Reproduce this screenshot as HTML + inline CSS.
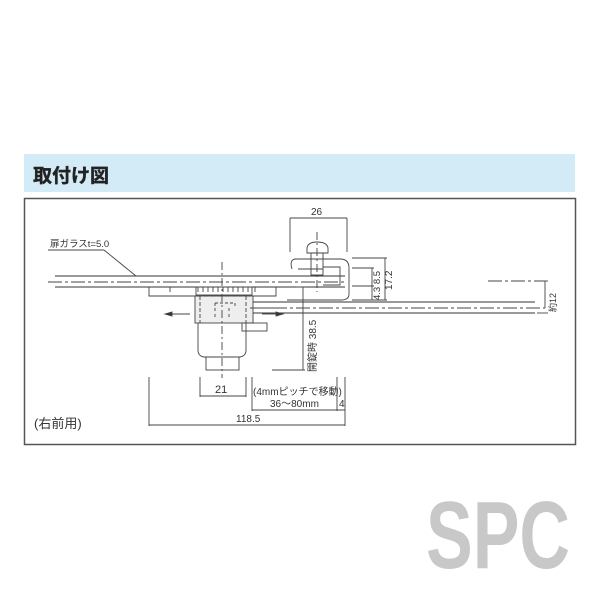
<!DOCTYPE html>
<html><head><meta charset="utf-8"><style>
html,body{margin:0;padding:0;background:#fff;}
svg{display:block;}
text{font-family:"Liberation Sans","Noto Sans CJK JP",sans-serif;fill:#333;}
</style></head><body>
<svg width="600" height="600" viewBox="0 0 600 600" xmlns="http://www.w3.org/2000/svg">
<rect x="24" y="154" width="551" height="38" fill="#d3ebf7"/>
<text x="33" y="182" font-size="19" font-weight="bold" style="fill:#222" stroke="#222" stroke-width="0.4">取付け図</text>
<rect x="24.5" y="198.5" width="551" height="246" fill="none" stroke="#555" stroke-width="1.5"/>

<g stroke="#444" stroke-width="0.9" fill="none">
<!-- upper glass -->
<line x1="55" y1="276" x2="345" y2="276" stroke="#333" stroke-width="1.1"/>
<line x1="55" y1="287" x2="345" y2="287" stroke="#333" stroke-width="1.1"/>
<line x1="48" y1="282" x2="345" y2="282" stroke-dasharray="14,3,3,3"/>
<!-- lower glass -->
<line x1="250" y1="302" x2="535" y2="302" stroke="#333" stroke-width="1.1"/>
<line x1="250" y1="313" x2="535" y2="313" stroke="#333" stroke-width="1.1"/>
<line x1="250" y1="308" x2="545" y2="308" stroke-dasharray="14,3,3,3"/>
<line x1="488" y1="281" x2="545" y2="281" stroke-dasharray="14,3,3,3"/>
<line x1="545" y1="281" x2="545" y2="308"/>
<!-- leader -->
<line x1="48" y1="250" x2="104" y2="250"/>
<line x1="104" y1="250" x2="136" y2="276"/>
<!-- flange -->
<path d="M149 287 V296 H276 V287"/>
<line x1="170" y1="287" x2="170" y2="292"/>
<line x1="255" y1="287" x2="255" y2="292"/>
<rect x="196" y="287" width="56" height="8"/>
<path d="M198 287 v5 M203 287 v5 M208 287 v5 M213 287 v5 M218 287 v5 M223 287 v5 M228 287 v5 M233 287 v5 M238 287 v5 M243 287 v5 M248 287 v5"/>
<!-- lock body -->
<rect x="195" y="296" width="58" height="27" fill="#eeeeee"/>
<line x1="197" y1="296" x2="253" y2="296" stroke-dasharray="4,3"/>
<path d="M215 303 h20" stroke-dasharray="3,2"/>
<path d="M215 303 v3 M235 303 v3"/>
<path d="M215 308 v10 M229 308 v10" stroke-dasharray="3,3"/>
<path d="M200 296 v27 M246 296 v27" stroke-dasharray="4,2"/>
<path d="M198 323 V350 Q198 356 204 357 H240 Q246 356 246 350 V323"/>
<rect x="206" y="357" width="33" height="13"/>
<rect x="242" y="323" width="25" height="8"/>
<line x1="222" y1="262" x2="222" y2="378" stroke-dasharray="8,3,2,3"/>
<!-- arrows -->
<line x1="170" y1="314" x2="190" y2="314"/>
<polygon points="165,314 172,312 172,316" fill="#333"/>
<line x1="262" y1="314" x2="278" y2="314"/>
<polygon points="283,314 276,312 276,316" fill="#333"/>
<line x1="250" y1="308" x2="282" y2="308"/>
<!-- clamp -->
<path d="M307 253 V248 Q308 242 317 242 Q327 242 328 248 V253 Z"/>
<rect x="311" y="253" width="12" height="22"/>
<path d="M292 269 Q289 259 296 259 H340 Q349 259 349 268 V294 Q349 300 341 300 H287 M323 269 H298 M323 267 H340 V285 H323"/>
<line x1="317" y1="232" x2="317" y2="292" stroke-dasharray="8,3,2,3"/>
<!-- 26 dim -->
<line x1="290" y1="218" x2="347" y2="218"/>
<line x1="290" y1="218" x2="290" y2="252"/>
<line x1="347" y1="218" x2="347" y2="252"/>
<!-- right dims -->
<line x1="352" y1="258" x2="387" y2="258"/>
<line x1="352" y1="268" x2="374" y2="268"/>
<line x1="352" y1="286" x2="374" y2="286"/>
<line x1="352" y1="300" x2="387" y2="300"/>
<line x1="372" y1="268" x2="372" y2="300"/>
<line x1="385" y1="258" x2="385" y2="300"/>
<line x1="537" y1="281" x2="548" y2="281"/>
<line x1="537" y1="313" x2="548" y2="313"/>
<!-- 38.5 -->
<line x1="296" y1="287" x2="305" y2="287"/>
<line x1="303" y1="287" x2="303" y2="370"/>
<line x1="272" y1="370" x2="305" y2="370"/>
<!-- bottom dims -->
<line x1="200" y1="377" x2="200" y2="397"/>
<line x1="246" y1="377" x2="246" y2="397"/>
<line x1="200" y1="396" x2="246" y2="396"/>
<line x1="149" y1="377" x2="149" y2="426"/>
<line x1="252" y1="377" x2="252" y2="411"/>
<line x1="337" y1="377" x2="337" y2="411"/>
<line x1="345" y1="377" x2="345" y2="426"/>
<line x1="252" y1="410" x2="345" y2="410"/>
<line x1="149" y1="425" x2="345" y2="425"/>
</g>

<text x="50" y="247" font-size="9.5">扉ガラスt=5.0</text>
<text x="311" y="215" font-size="10">26</text>
<text x="215" y="393" font-size="11">21</text>
<text x="253" y="395" font-size="10">(4mmピッチで移動)</text>
<text x="270" y="407" font-size="10">36〜80mm</text>
<text x="339" y="407" font-size="10">4</text>
<text x="236" y="422" font-size="10">118.5</text>
<text x="34" y="428" font-size="13">(右前用)</text>
<text transform="translate(380,300) rotate(-90)" font-size="9.5">4.3 8.5</text>
<text transform="translate(392,290) rotate(-90)" font-size="10">17.2</text>
<text transform="translate(556,312) rotate(-90)" font-size="9">約12</text>
<text transform="translate(316,372) rotate(-90)" font-size="10">開錠時 38.5</text>

<text x="426" y="568" font-size="96" font-weight="bold" style="fill:#c8c8c8" transform="translate(426,0) scale(0.72,1) translate(-426,0)" textLength="200" lengthAdjust="spacingAndGlyphs">SPC</text>
</svg>
</body></html>
